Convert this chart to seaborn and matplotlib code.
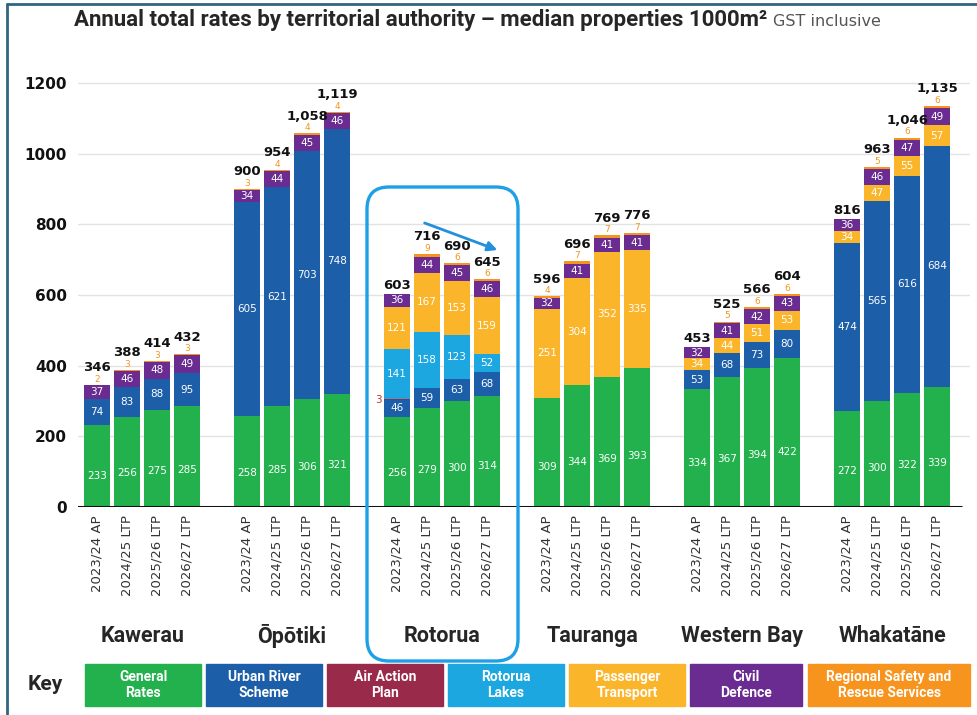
import numpy as np
import pandas as pd
import seaborn as sns
import matplotlib.pyplot as plt
from matplotlib.patches import Rectangle, FancyBboxPatch
from matplotlib.transforms import IdentityTransform

groups = ["Kawerau", "Ōpōtiki", "Rotorua", "Tauranga", "Western Bay", "Whakatāne"]
years = ["2023/24 AP", "2024/25 LTP", "2025/26 LTP", "2026/27 LTP"]

# values per bar, 4 years for each group in order
general_rates = [233, 256, 275, 285, 258, 285, 306, 321, 256, 279, 300, 314,
                 309, 344, 369, 393, 334, 367, 394, 422, 272, 300, 322, 339]
urban_river = [74, 83, 88, 95, 605, 621, 703, 748, 46, 59, 63, 68,
               0, 0, 0, 0, 53, 68, 73, 80, 474, 565, 616, 684]
air_action = [0, 0, 0, 0, 0, 0, 0, 0, 3, 0, 0, 0,
              0, 0, 0, 0, 0, 0, 0, 0, 0, 0, 0, 0]
rotorua_lakes = [0, 0, 0, 0, 0, 0, 0, 0, 141, 158, 123, 52,
                 0, 0, 0, 0, 0, 0, 0, 0, 0, 0, 0, 0]
passenger = [0, 0, 0, 0, 0, 0, 0, 0, 121, 167, 153, 159,
             251, 304, 352, 335, 34, 44, 51, 53, 34, 47, 55, 57]
civil_defence = [37, 46, 48, 49, 34, 44, 45, 46, 36, 44, 45, 46,
                 32, 41, 41, 41, 32, 41, 42, 43, 36, 46, 47, 49]
safety_rescue = [2, 3, 3, 3, 3, 4, 4, 4, 0, 9, 6, 6,
                 4, 7, 7, 7, 0, 5, 6, 6, 0, 5, 6, 6]
totals = ["346", "388", "414", "432", "900", "954", "1,058", "1,119",
          "603", "716", "690", "645", "596", "696", "769", "776",
          "453", "525", "566", "604", "816", "963", "1,046", "1,135"]

layer_names = ["General\nRates", "Urban River\nScheme", "Air Action\nPlan", "Rotorua\nLakes",
               "Passenger\nTransport", "Civil\nDefence", "Regional Safety and\nRescue Services"]
colors = ["#22b14c", "#1c5ea8", "#9a2a4a", "#1ca7e0", "#fbb52b", "#6a2c90", "#f7941d"]

sns.set_theme(style="white")
plt.rcParams['font.family'] = ['DejaVu Sans']
narrow = ['Roboto', 'DejaVu Sans']

pos = [g * 5 + i for g in range(len(groups)) for i in range(len(years))]
values = np.array([general_rates, urban_river, air_action, rotorua_lakes,
                   passenger, civil_defence, safety_rescue])
cum = np.cumsum(values, axis=0)
df = pd.DataFrame({"pos": pos})
for k in range(len(layer_names)):
    df[f"c{k}"] = cum[k]

fig = plt.figure(figsize=(9.77, 7.15), dpi=100)
ax = fig.add_axes([0.08, 0.291, 0.913, 0.6224])

# stacked bars: draw cumulative heights from the top layer down
for k in range(len(layer_names) - 1, -1, -1):
    sns.barplot(data=df, x="pos", y=f"c{k}", native_scale=True, color=colors[k],
                saturation=1, width=0.87, errorbar=None, linewidth=0, ax=ax)

for j, p in enumerate(pos):
    for k in range(6):
        v = values[k][j]
        if v == 0:
            continue
        bottom = cum[k][j] - v
        if k == 0:
            ax.text(p, v * 0.37, str(v), ha="center", va="center", color="white", fontsize=7.5)
        elif k == 2:
            ax.text(p - 0.5, bottom + v / 2, str(v), ha="right", va="center", color="#c0392b", fontsize=7.5)
        else:
            ax.text(p, bottom + v / 2, str(v), ha="center", va="center", color="white", fontsize=7.5)
    top = cum[6][j]
    if safety_rescue[j] > 0:
        ax.text(p, top + 3, str(safety_rescue[j]), ha="center", va="bottom", color="#f7941d", fontsize=6.5)
        ax.text(p, top + 30, totals[j], ha="center", va="bottom", fontsize=9.5, fontweight="bold", color="#111")
    else:
        ax.text(p, top + 6, totals[j], ha="center", va="bottom", fontsize=9.5, fontweight="bold", color="#111")

ax.set_xlim(-0.63, 29.1)
ax.set_ylim(0, 1260)
ax.set_yticks(range(0, 1201, 200))
ax.set_yticklabels([str(t) for t in range(0, 1201, 200)], fontweight="bold", fontsize=11, color="#111")
ax.set_xticks(pos)
ax.set_xticklabels(years * len(groups), rotation=90, fontsize=9.5, color="#333")
ax.tick_params(axis="both", length=0)
ax.tick_params(axis="y", pad=8)
ax.tick_params(axis="x", pad=6)
ax.set_xlabel("")
ax.set_ylabel("")
for s in ax.spines.values():
    s.set_visible(False)
ax.yaxis.grid(True, color="#e2e2e2", lw=1)
ax.set_axisbelow(True)
ax.axhline(0, color="#111", lw=2.2, xmin=0, xmax=0.99)

for g, name in enumerate(groups):
    ax.text(g * 5 + 1.5, -365, name, ha="center", va="center", fontsize=15.5,
            fontweight="bold", family=narrow, clip_on=False)

# title
t1 = fig.text(0.076, 0.972, "Annual total rates by territorial authority – median properties 1000m²",
              ha="left", va="center", fontsize=16, fontweight="bold", family=narrow)
ax.annotate("GST inclusive", xy=(1, 0.45), xycoords=t1, xytext=(4, 0), textcoords="offset points",
            ha="left", va="center", fontsize=11.5, color="#555", annotation_clip=False)

# Rotorua highlight box and arrow
fig.patches.append(FancyBboxPatch((367, 715 - 661), 151, 474, boxstyle="round,pad=0,rounding_size=22",
                                  transform=IdentityTransform(), fill=False, ec="#1ea0e6", lw=2.4))
ax.annotate("", xy=(500, 715 - 251), xycoords="figure pixels", xytext=(422, 715 - 222),
            textcoords="figure pixels",
            arrowprops=dict(arrowstyle="-|>", color="#2290dc", lw=2, mutation_scale=14))

# key
fig.text(45 / 977, 1 - 684 / 715, "Key", ha="center", va="center", fontsize=15, fontweight="bold", family=narrow)
box_x = [85, 206, 327, 448, 569, 690, 808]
box_w = [116, 116, 116, 116, 116, 112, 162]
for k, name in enumerate(layer_names):
    fig.patches.append(Rectangle((box_x[k] / 977, 1 - 706 / 715), box_w[k] / 977, 42 / 715,
                                 transform=fig.transFigure, color=colors[k]))
    fig.text((box_x[k] + box_w[k] / 2) / 977, 1 - 685 / 715, name, ha="center", va="center",
             fontsize=10, fontweight="bold", color="white", family=narrow, linespacing=1.1)

# frame
fig.add_artist(plt.Line2D([7 / 977, 7 / 977], [0, 1 - 4 / 715], transform=fig.transFigure, color="#2f6680", lw=2))
fig.add_artist(plt.Line2D([7 / 977, 1], [1 - 4 / 715, 1 - 4 / 715], transform=fig.transFigure, color="#2f6680", lw=2))

fig.savefig("out.png", dpi=100)
